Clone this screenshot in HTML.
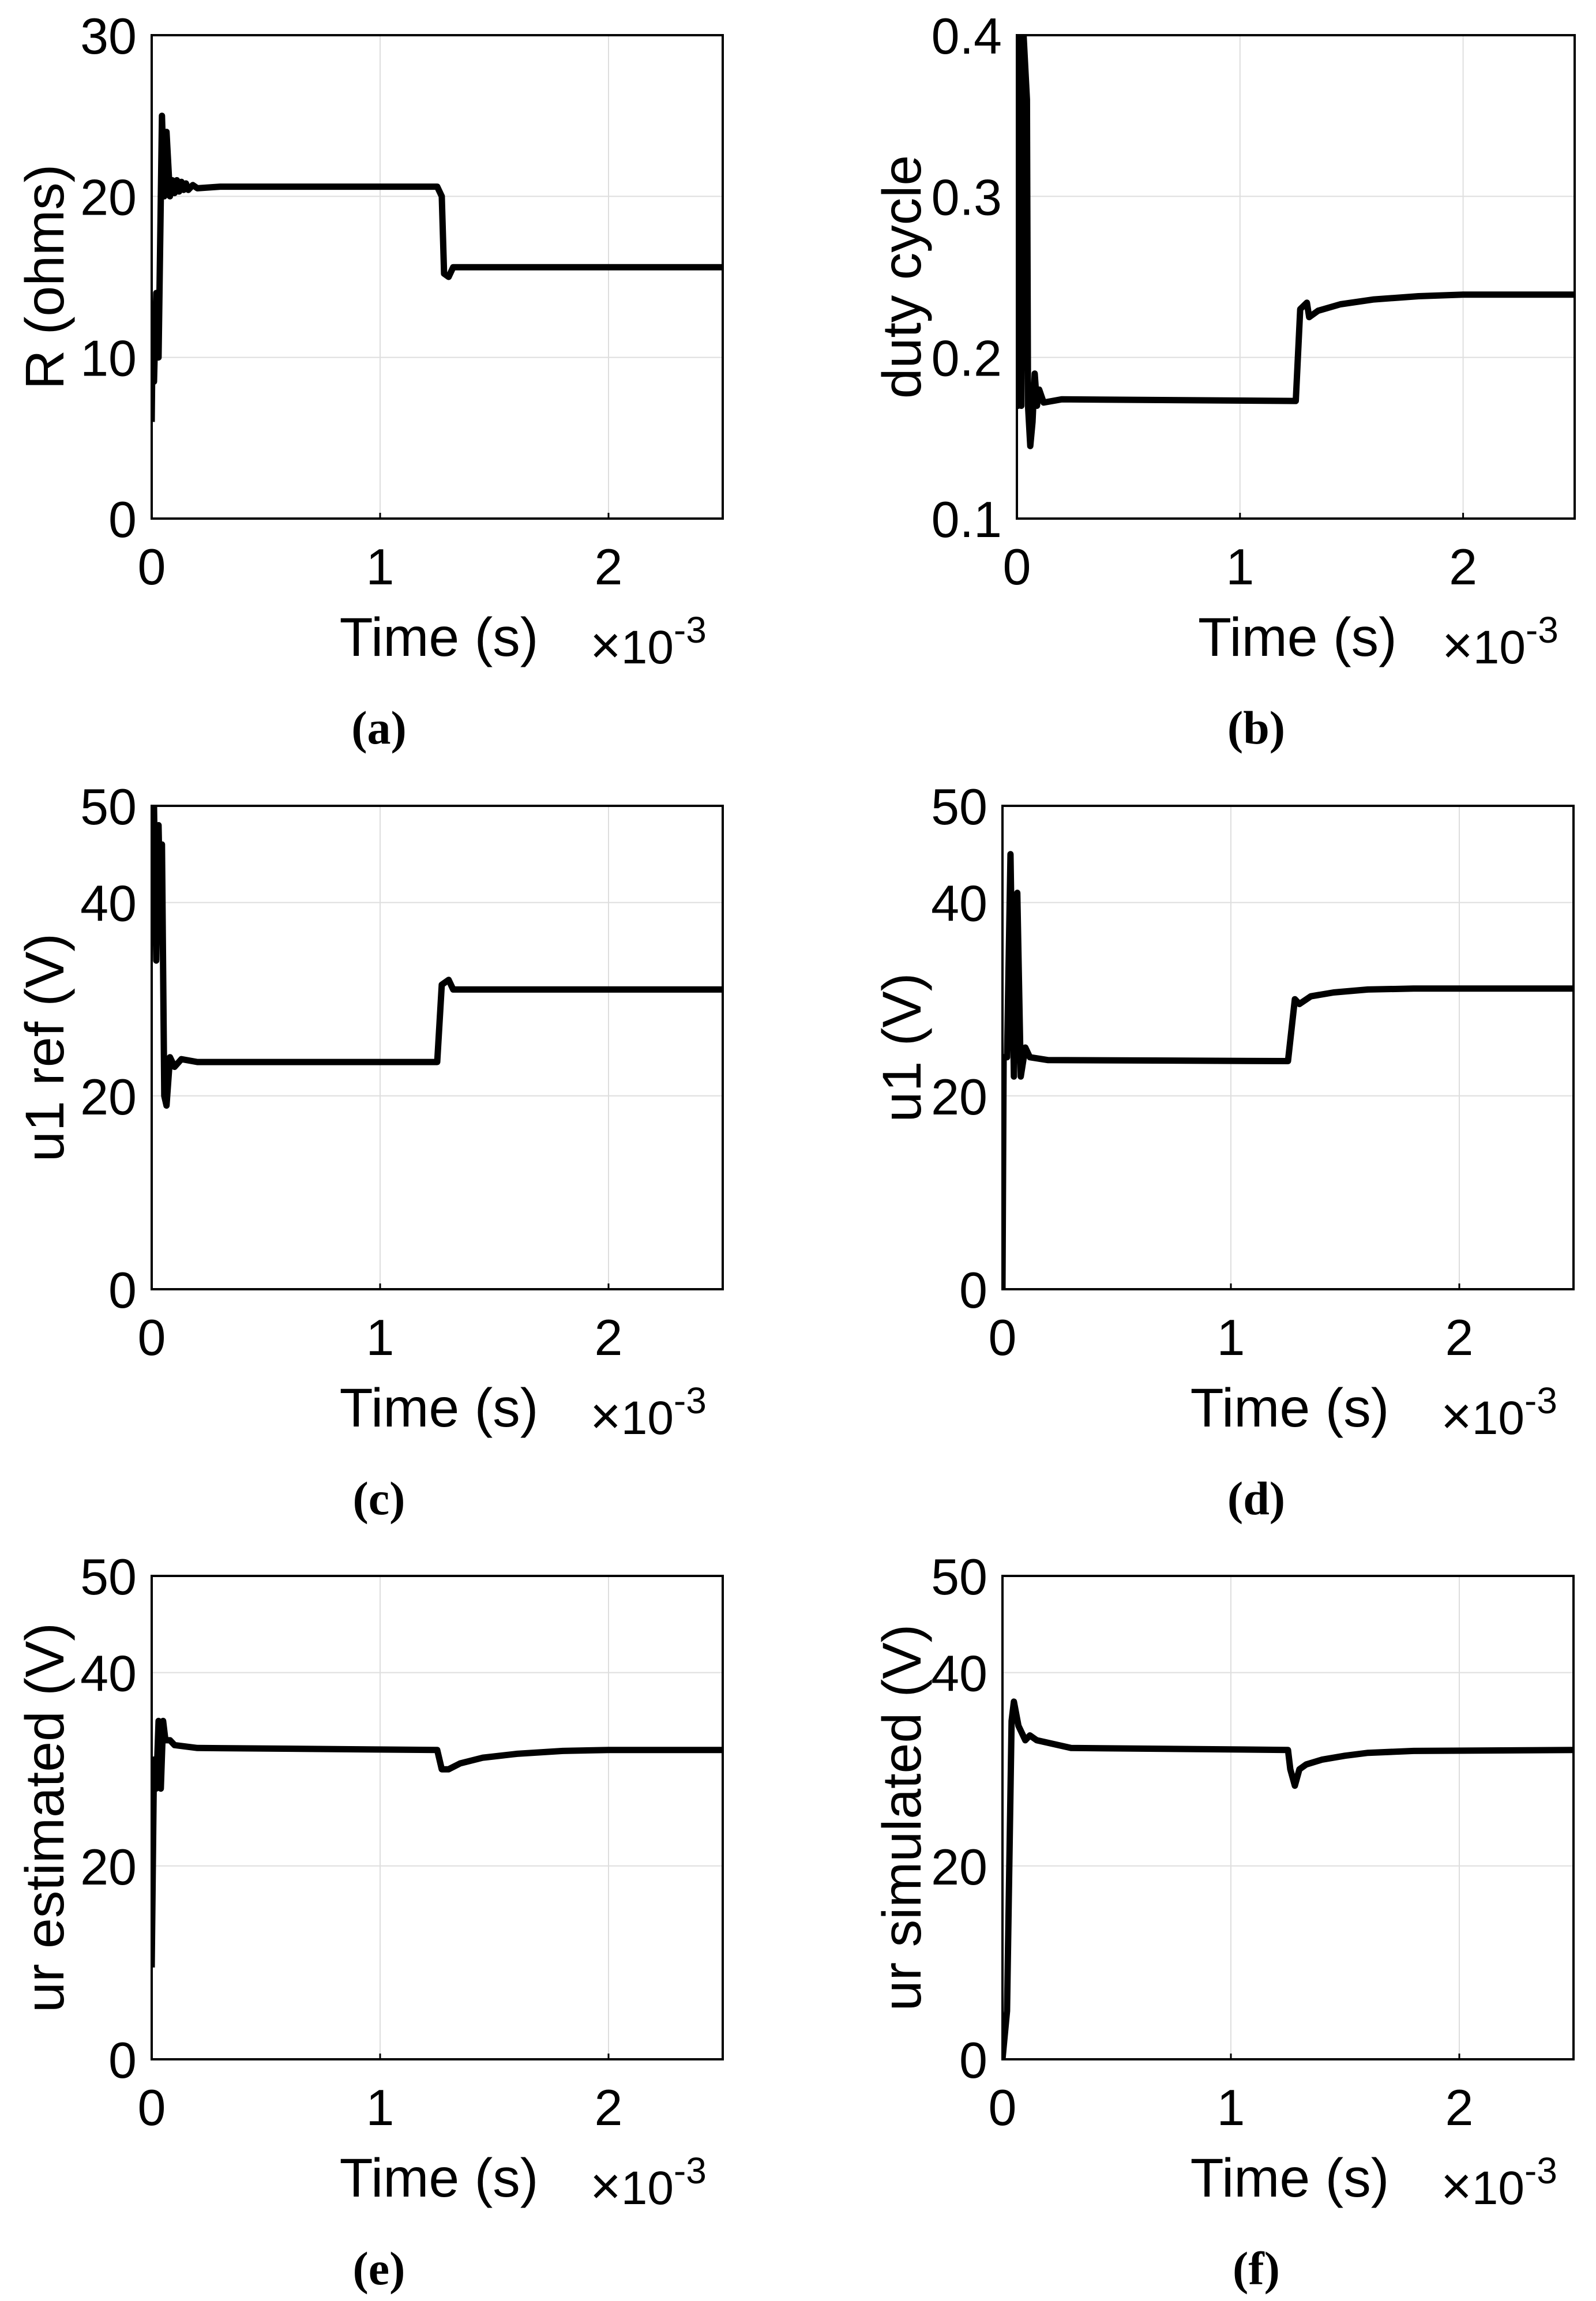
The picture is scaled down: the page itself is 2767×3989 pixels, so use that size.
<!DOCTYPE html>
<html><head><meta charset="utf-8"><style>
html,body{margin:0;padding:0;background:#fff;}
svg{display:block;}
text{font-family:"Liberation Sans",Arial,sans-serif;fill:#000;}
.cap{font-family:"Liberation Serif",serif;font-weight:bold;}
</style></head><body>
<svg id="fig" width="2767" height="3989" viewBox="0 0 2767 3989" xmlns="http://www.w3.org/2000/svg"></svg>
<script>
// x values in ms (axis ×10^-3 s)
const xTicks = [0, 1, 2];
const aX = [0,0.005,0.01,0.02,0.03,0.045,0.055,0.065,0.08,0.09,0.1,0.11,0.12,0.13,0.14,0.15,0.16,0.18,0.2,0.3,1.25,1.27,1.28,1.3,1.32,2.5];
const aY = [6,13,8.5,14,10,25,20,24,20,21,20.2,21,20.3,20.9,20.4,20.8,20.4,20.7,20.5,20.6,20.6,20,15.2,15,15.6,15.6];
const bX = [0,0.005,0.01,0.02,0.03,0.045,0.05,0.06,0.07,0.08,0.09,0.1,0.12,0.2,1.25,1.27,1.3,1.31,1.35,1.45,1.6,1.8,2.0,2.5];
const bY = [0.4,0.17,0.4,0.17,0.4,0.36,0.17,0.145,0.16,0.19,0.17,0.18,0.172,0.174,0.173,0.23,0.234,0.225,0.229,0.233,0.236,0.238,0.239,0.239];
const cX = [0,0.005,0.01,0.02,0.03,0.04,0.045,0.055,0.065,0.08,0.1,0.13,0.2,1.25,1.27,1.3,1.32,1.4,2.5];
const cY = [50,37,50,34,48,36,46,20,19,24,23,23.8,23.5,23.5,31.5,32,31,31,31];
const dX = [0,0.005,0.02,0.035,0.05,0.065,0.08,0.1,0.12,0.2,1.25,1.28,1.3,1.35,1.45,1.6,1.8,2.5];
const dY = [0,24,24,45,22,41,22,25,24,23.7,23.6,30,29.5,30.3,30.7,31,31.1,31.1];
const eX = [0,0.01,0.02,0.03,0.04,0.05,0.06,0.08,0.1,0.2,1.25,1.27,1.3,1.35,1.45,1.6,1.8,2,2.5];
const eY = [9.5,31,28,35,28,35,33,33,32.5,32.2,32,30,30,30.6,31.2,31.6,31.9,32,32];
const fX = [0,0.02,0.04,0.05,0.07,0.1,0.12,0.15,0.3,1.25,1.26,1.28,1.3,1.33,1.4,1.5,1.6,1.8,2.5];
const fY = [0,5,35,37,34.5,33,33.5,33,32.2,32,30,28.3,30,30.5,31,31.4,31.7,31.9,32];
const yTicksA = [0,10,20,30];
const yTicksB = [0.1,0.2,0.3,0.4];
const yTicks50 = [0,20,40,50];

const NS = "http://www.w3.org/2000/svg";
const svg = document.getElementById('fig');
function mk(tag, attrs, parent){const e=document.createElementNS(NS,tag);for(const k in attrs)e.setAttribute(k,attrs[k]);(parent||svg).appendChild(e);return e;}

const panels = [
 {id:'a',L:263,R:1253,T:61,B:899,ymin:0,ymax:30,yt:yTicksA,fmt:v=>String(v),lab:'R (ohms)',lx:76,xs:aX,ys:aY,cx:657},
 {id:'b',L:1763,R:2730,T:61,B:899,ymin:0.1,ymax:0.4,yt:yTicksB,fmt:v=>v.toFixed(1),lab:'duty cycle',lx:1562,xs:bX,ys:bY,cx:2178},
 {id:'c',L:263,R:1253,T:1397,B:2235,ymin:0,ymax:50,yt:yTicks50,fmt:v=>String(v),lab:'u1 ref (V)',lx:76,xs:cX,ys:cY,cx:657},
 {id:'d',L:1738,R:2728,T:1397,B:2235,ymin:0,ymax:50,yt:yTicks50,fmt:v=>String(v),lab:'u1 (V)',lx:1562,xs:dX,ys:dY,cx:2178},
 {id:'e',L:263,R:1253,T:2732,B:3570,ymin:0,ymax:50,yt:yTicks50,fmt:v=>String(v),lab:'ur estimated (V)',lx:76,xs:eX,ys:eY,cx:657},
 {id:'f',L:1738,R:2728,T:2732,B:3570,ymin:0,ymax:50,yt:yTicks50,fmt:v=>String(v),lab:'ur simulated (V)',lx:1562,xs:fX,ys:fY,cx:2178}
];

panels.forEach(p=>{
  const g = mk('g',{});
  
  
  const sx = v=>p.L+(v-0)/(2.5-0)*(p.R-p.L);
  const sy = v=>p.B-(v-p.ymin)/(p.ymax-p.ymin)*(p.B-p.T);
  const clip = mk('clipPath',{id:'clip'+p.id},g);
  mk('rect',{x:p.L,y:p.T,width:p.R-p.L,height:p.B-p.T},clip);
  xTicks.forEach(t=>{
    const x=sx(t);
    if(t>0){const l=mk('line',{x1:x,x2:x,y1:p.T,y2:p.B,stroke:'#dedede','stroke-width':2},g);
    
    }
    const tx=mk('text',{x:x,y:p.B+114,'font-size':88,'text-anchor':'middle'},g);tx.textContent=String(t);
    
    
    mk('line',{x1:x,x2:x,y1:p.B,y2:p.B-10,stroke:'#000','stroke-width':3},g);
  });
  p.yt.forEach(t=>{
    const y=sy(t);
    if(t>p.ymin && t<p.ymax){const l=mk('line',{x1:p.L,x2:p.R,y1:y,y2:y,stroke:'#dedede','stroke-width':2},g);
    
    }
    const tx=mk('text',{x:p.L-26,y:y+32,'font-size':88,'text-anchor':'end'},g);tx.textContent=p.fmt(t);
    
    
  });
  const d = p.xs.map((x,i)=>(i?'L':'M')+sx(x).toFixed(1)+','+sy(p.ys[i]).toFixed(1)).join(' ');
  const path = mk('path',{d:d,fill:'none',stroke:'#000','stroke-width':11,'stroke-linejoin':'round','clip-path':'url(#clip'+p.id+')'},g);
  
  
  const box = mk('rect',{x:p.L,y:p.T,width:p.R-p.L,height:p.B-p.T,fill:'none',stroke:'#000','stroke-width':4},g);
  
  
  const xl=mk('text',{x:p.L+0.503*(p.R-p.L),y:p.B+238,'font-size':95,'text-anchor':'middle'},g);xl.textContent='Time (s)';
  
  
  const ex=mk('text',{x:p.R-230,y:p.B+251,'font-size':82},g);
  ex.innerHTML='<tspan font-size="92">×</tspan>10<tspan dy="-36" font-size="64">-3</tspan>';
  
  
  const yc=(p.T+p.B)/2;
  const yl=mk('text',{x:p.lx,y:yc,'font-size':95,'text-anchor':'middle',transform:'rotate(-90 '+p.lx+' '+yc+')',dy:'34'},g);yl.textContent=p.lab;
  
  
  const cap=mk('text',{x:p.cx,y:p.B+390,'font-size':82,'text-anchor':'middle',class:'cap'},g);cap.textContent='('+p.id+')';
  
  
});
</script>
</body></html>
